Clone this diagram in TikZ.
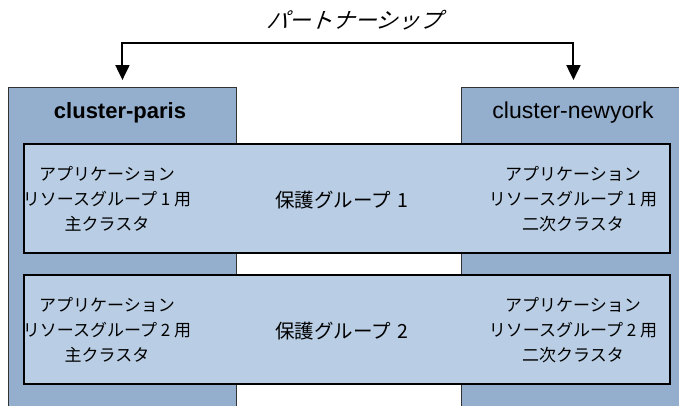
\documentclass[tikz,border=0pt]{standalone}
\usepackage{fontspec}
\setmainfont{Liberation Sans}
\newfontfamily\jp{Noto Sans CJK JP}
\newfontfamily\jpslant[FakeSlant=0.35]{Noto Sans CJK JP}
\usetikzlibrary{arrows.meta}
\definecolor{clusterblue}{RGB}{148,174,206}
\definecolor{groupblue}{RGB}{185,206,228}
\tikzset{
	cluster/.style={draw=black!80, line width=0.9pt, fill=clusterblue, anchor=north west, inner sep=0pt, minimum height=340pt},
	group/.style={draw=black, line width=2.4pt, fill=groupblue, minimum width=646pt, minimum height=109pt, inner sep=0pt},
	jptext/.style={align=center, font=\jp\fontsize{17}{25}\selectfont, inner sep=0pt},
	pgname/.style={font=\jp\fontsize{19.5}{24}\selectfont, inner sep=0pt},
	clustername/.style={font=\fontsize{23}{26}\selectfont},
	partner/.style={line width=2pt, {Triangle[length=15pt,width=14pt]}-{Triangle[length=15pt,width=14pt]}, shorten <=7pt, shorten >=7pt}
}

\begin{document}
\begin{tikzpicture}[x=1pt, y=-1pt]
			%%%%% START %%%%%
			\useasboundingbox (0, 0) rectangle (679, 405);
			\clip (0, 0) rectangle (679, 405);
			
			\node[cluster, minimum width=228pt] (paris) at (8, 87) {};
			\node[cluster, minimum width=224pt] (newyork) at (461, 87) {};
			\node[clustername, font=\bfseries\fontsize{22}{26}\selectfont] (parisname) at (120, 113) {cluster-paris};
			\node[clustername] (newyorkname) at (573, 113) {cluster-newyork};
			
			\coordinate (top) at (347, 43);
			\draw[partner] (paris.north) |- (top) -| (newyork.north);
			\node[font=\jpslant\fontsize{22}{26}\selectfont] (partnership) at (354, 20) {パートナーシップ};
			
			\node[group] (pg1) at (347, 198.5) {};
			\node[jptext] (pg1prim) at (107, 199) {アプリケーション\\リソースグループ 1 用\\主クラスタ};
			\node[pgname] (pg1name) at (342, 200) {保護グループ\,\,1};
			\node[jptext] (pg1sec) at (573, 199) {アプリケーション\\リソースグループ 1 用\\二次クラスタ};
			
			\node[group] (pg2) at (347, 329.5) {};
			\node[jptext] (pg2prim) at (107, 330) {アプリケーション\\リソースグループ 2 用\\主クラスタ};
			\node[pgname] (pg2name) at (342, 331) {保護グループ\,\,2};
			\node[jptext] (pg2sec) at (573, 330) {アプリケーション\\リソースグループ 2 用\\二次クラスタ};
			
			%%%%% END %%%%%
\end{tikzpicture}
\end{document}
